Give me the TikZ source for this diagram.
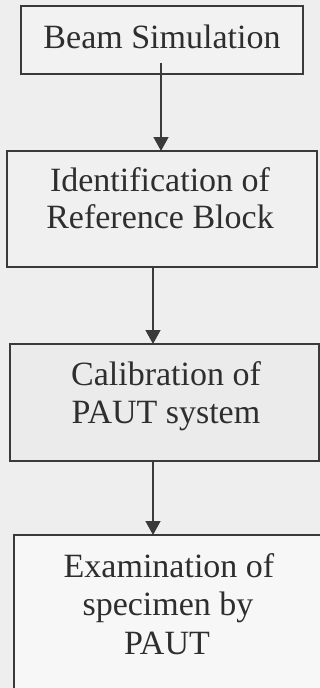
\documentclass[tikz,border=0pt]{standalone}
\usepackage{fontspec}
\setmainfont{Liberation Serif}
\usetikzlibrary{arrows.meta}
\definecolor{bg}{HTML}{EEEEEE}
\definecolor{ln}{HTML}{3A3A3A}
\definecolor{tx}{HTML}{2E2E2E}
\begin{document}
\begin{tikzpicture}[x=1pt,y=-1pt,
  boxstyle/.style={draw=ln,line width=1.4pt},
  lbl/.style={anchor=base,inner sep=0pt,text=tx,font=\fontsize{34}{37}\selectfont},
  flow/.style={draw=ln,line width=1.4pt,-{Triangle[width=15pt,length=14pt]}}]
\fill[bg] (0,0) rectangle (320,688);
\useasboundingbox (0,0) rectangle (320,688);
% boxes
\draw[boxstyle,fill=black!5] (21,6) rectangle (303,74);
\draw[boxstyle,fill=black!6] (7,151) rectangle (317,267);
\draw[boxstyle,fill=black!8] (10,344) rectangle (319,461);
\draw[boxstyle,fill=black!3] (14,535) rectangle (330,700);
\coordinate (b1s) at (161,63);
\coordinate (b2n) at (161,151);
\coordinate (b2s) at (153,267);
\coordinate (b3n) at (153,344);
\coordinate (b3s) at (153,461);
\coordinate (b4n) at (153,535);
% texts
\node[lbl] (t1) at (162,48) {Beam Simulation};
\node[lbl] (t2a) at (160,191) {Identification of};
\node[lbl] (t2b) at (160,228) {Reference Block};
\node[lbl] (t3a) at (166,385) {Calibration of};
\node[lbl] (t3b) at (166,423) {PAUT system};
\node[lbl] (t4a) at (169,577) {Examination of};
\node[lbl] (t4b) at (168,615) {specimen by};
\node[lbl] (t4c) at (167,654) {PAUT};
% arrows
\draw[flow] (b1s) -- (b2n);
\draw[flow] (b2s) -- (b3n);
\draw[flow] (b3s) -- (b4n);
\end{tikzpicture}
\end{document}
